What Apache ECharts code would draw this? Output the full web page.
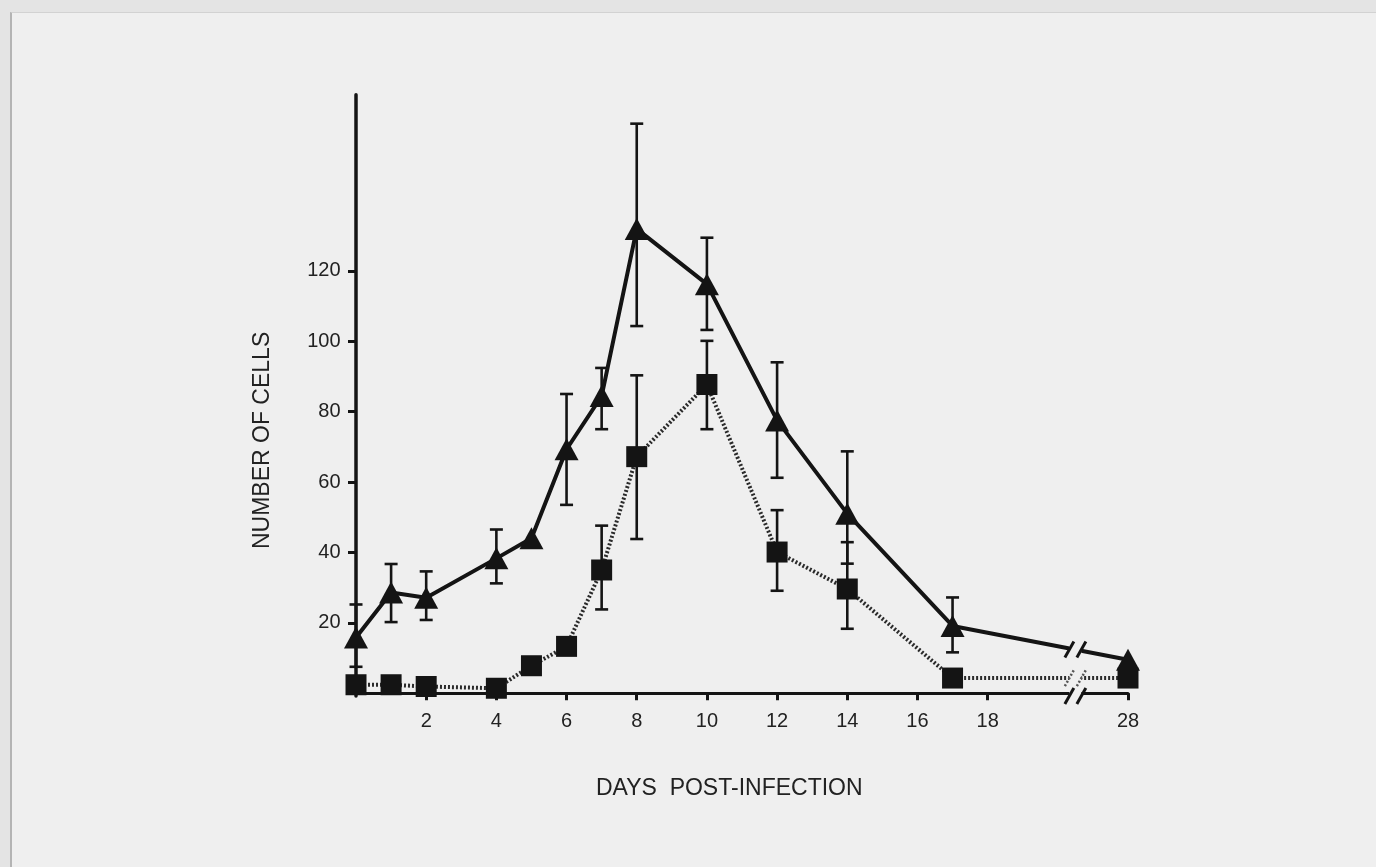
<!DOCTYPE html>
<html>
<head>
<meta charset="utf-8">
<script src="https://cdn.jsdelivr.net/npm/echarts@6/dist/echarts.min.js"></script>
<style>
  html, body { margin: 0; padding: 0; width: 1376px; height: 867px; background: #e4e4e4; overflow: hidden; }
  #panel { position: absolute; left: 10px; top: 12px; right: 0; bottom: 0; background: #efefef;
           border-left: 2px solid #b4b4b4; border-top: 1px solid #d2d2d2; }
  #chart { position: absolute; left: 0; top: 0; width: 1376px; height: 867px; }
</style>
</head>
<body>
<div id="panel"></div>
<div id="chart"></div>
<script>
// ---- data ----
const days = [0, 1, 2, 4, 5, 6, 7, 8, 10, 12, 14, 17, 28];
const triMean = [15.8, 28.6, 27.1, 38.3, 44.0, 69.3, 84.4, 131.9, 116.2, 77.5, 51.0, 19.1, 9.5];
const triLow  = [7.5, 20.2, 20.8, 31.2, null, 53.5, 75.0, 104.3, 103.2, 61.2, 36.8, 11.6, null];
const triHigh = [25.2, 36.7, 34.6, 46.5, null, 85.0, 92.4, 161.8, 129.4, 94.0, 68.7, 27.2, null];
const sqMean = [2.4, 2.4, 1.9, 1.4, 7.8, 13.3, 35.0, 67.2, 87.7, 40.1, 29.6, 4.3, 4.3];
const sqLow  = [null, null, null, null, null, null, 23.8, 43.8, 75.0, 29.1, 18.3, null, null];
const sqHigh = [null, null, null, null, null, null, 47.6, 90.3, 100.1, 52.0, 42.9, null, null];
const xTickDays = [2, 4, 6, 8, 10, 12, 14, 16, 18, 28];
const yTicks = [20, 40, 60, 80, 100, 120];

// broken x axis: day 28 is drawn after the break
const BREAK_AT = 20.5;
function xPos(d) { return d > 20 ? 22 : d; }

const INK = '#141414';
const PANEL = '#efefef';
const FONT = '"Liberation Sans", Arial, sans-serif';

function pairs(vals) { return days.map((d, i) => [xPos(d), vals[i]]); }
function errData(lo, hi) {
  const out = [];
  days.forEach((d, i) => { if (lo[i] != null && hi[i] != null) out.push([xPos(d), lo[i], hi[i]]); });
  return out;
}
function errSeries(lo, hi) {
  return {
    type: 'custom', z: 3, silent: true,
    data: errData(lo, hi),
    renderItem: function (params, api) {
      const x = api.value(0);
      const a = api.coord([x, api.value(1)]);
      const b = api.coord([x, api.value(2)]);
      const w = 6.5;
      const st = { stroke: INK, lineWidth: 2.6 };
      return { type: 'group', children: [
        { type: 'line', shape: { x1: a[0], y1: a[1], x2: b[0], y2: b[1] }, style: st },
        { type: 'line', shape: { x1: a[0] - w, y1: a[1], x2: a[0] + w, y2: a[1] }, style: st },
        { type: 'line', shape: { x1: b[0] - w, y1: b[1], x2: b[0] + w, y2: b[1] }, style: st }
      ]};
    }
  };
}

const chart = echarts.init(document.getElementById('chart'), null, { renderer: 'canvas' });
const option = {
  backgroundColor: 'transparent',
  animation: false,
  grid: { left: 352.5, right: 248, top: 94.8, bottom: 171 },
  xAxis: {
    type: 'value', min: -0.1, max: 22,
    name: 'DAYS  POST-INFECTION', nameLocation: 'middle', nameGap: 81,
    nameTextStyle: { fontFamily: FONT, fontSize: 23, color: '#222', padding: [0, 22, 0, 0] },
    axisLine: { show: true, lineStyle: { color: INK, width: 3 } },
    axisTick: { show: true, inside: false, length: 7, lineStyle: { color: INK, width: 3 },
                customValues: xTickDays.map(xPos) },
    axisLabel: { show: true, margin: 15, fontFamily: FONT, fontSize: 20, color: '#222',
                 customValues: xTickDays.map(xPos),
                 formatter: function (v) { const i = xTickDays.map(xPos).indexOf(v); return i >= 0 ? String(xTickDays[i]) : ''; } },
    splitLine: { show: false }
  },
  yAxis: {
    type: 'value', min: -0.8, max: 170,
    name: 'NUMBER OF CELLS', nameLocation: 'middle', nameGap: 78, nameRotate: 90,
    nameTextStyle: { fontFamily: FONT, fontSize: 23, color: '#222', padding: [0, 90, 0, 0] },
    axisLine: { show: true, lineStyle: { color: INK, width: 3.5 } },
    axisTick: { show: true, length: 8, lineStyle: { color: INK, width: 3 }, customValues: yTicks },
    axisLabel: { show: true, margin: 12, fontFamily: FONT, fontSize: 20, color: '#222', customValues: yTicks },
    splitLine: { show: false }
  },
  series: [
    errSeries(triLow, triHigh),
    errSeries(sqLow, sqHigh),
    {
      type: 'line', z: 4, data: pairs(sqMean),
      symbol: 'rect', symbolSize: [21, 21], showSymbol: true,
      itemStyle: { color: INK },
      lineStyle: { color: '#2a2a2a', width: 4, type: [2, 2] }
    },
    {
      type: 'line', z: 5, data: pairs(triMean),
      symbol: 'triangle', symbolSize: [24, 22], showSymbol: true,
      itemStyle: { color: INK },
      lineStyle: { color: INK, width: 4 }
    }
  ]
};
chart.setOption(option);

// draw the axis / line breaks at BREAK_AT
function valueAt(vals, x) {
  const xs = days.map(xPos);
  for (let i = 0; i < xs.length - 1; i++) {
    if (x >= xs[i] && x <= xs[i + 1]) {
      const t = (x - xs[i]) / (xs[i + 1] - xs[i]);
      return vals[i] + t * (vals[i + 1] - vals[i]);
    }
  }
  return vals[vals.length - 1];
}
const yTri = valueAt(triMean, BREAK_AT);
const ySq = valueAt(sqMean, BREAK_AT);
const pAxis = chart.convertToPixel({ gridIndex: 0 }, [BREAK_AT, -0.8]);
const pTri = chart.convertToPixel({ gridIndex: 0 }, [BREAK_AT, yTri]);
const pSq = chart.convertToPixel({ gridIndex: 0 }, [BREAK_AT, ySq]);
const half = 6;
const els = [];
els.push({ type: 'rect', z: 100, silent: true,
  shape: { x: pAxis[0] - half, y: pTri[1] - 14, width: half * 2, height: pAxis[1] - pTri[1] + 20 },
  style: { fill: PANEL } });
function slashes(p, color, lw, dash) {
  [-half, half].forEach(function (dx) {
    els.push({ type: 'line', z: 101, silent: true,
      shape: { x1: p[0] + dx - 4.5, y1: p[1] + 8, x2: p[0] + dx + 4.5, y2: p[1] - 8 },
      style: { stroke: color, lineWidth: lw, lineDash: dash || null } });
  });
}
slashes(pAxis, INK, 3);
slashes(pTri, INK, 3);
slashes(pSq, '#555', 2.5, [2, 2]);
chart.setOption({ graphic: { elements: els } });
</script>
</body>
</html>
